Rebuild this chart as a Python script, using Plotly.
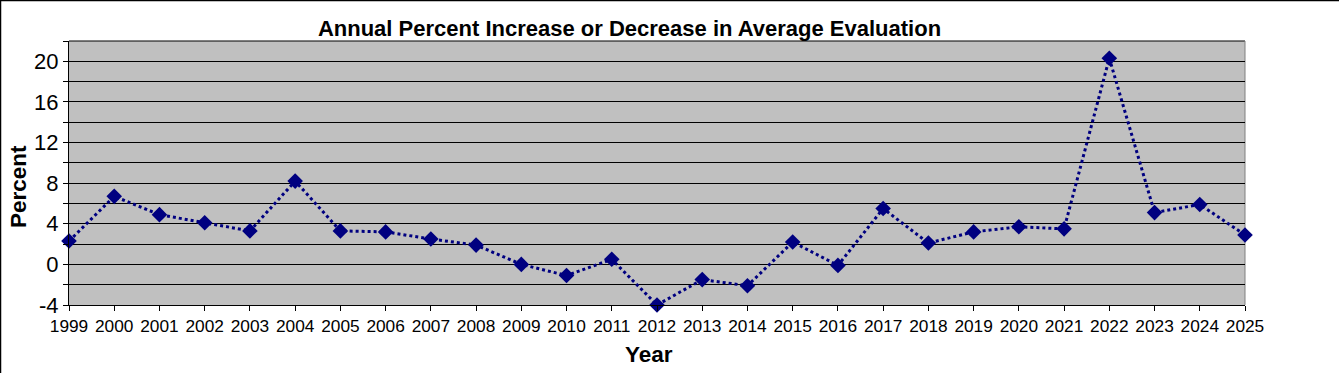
import plotly.graph_objects as go

years = list(range(1999, 2026))
percent_change = [2.3, 6.7, 4.9, 4.1, 3.3, 8.2, 3.3, 3.2, 2.5, 1.9, 0.0, -1.1, 0.5,
                  -4.0, -1.5, -2.1, 2.2, -0.1, 5.5, 2.1, 3.2, 3.7, 3.5, 20.3, 5.1, 5.9, 2.9]
y_tick_vals = list(range(-4, 23, 2))
y_tick_text = [str(v) if v % 4 == 0 else "" for v in y_tick_vals]

W, H = 1339, 373
L, R, T, B = 69, 94, 41, 68
PW, PH = W - L - R, H - T - B

def px_x(px):
    return (px - L) / PW

def px_y(py):
    return (H - B - py) / PH

FONT = "Liberation Sans, Arial, sans-serif"
NAVY = "#000080"

fig = go.Figure()
fig.add_trace(go.Scatter(
    x=years, y=percent_change, mode="lines+markers",
    line=dict(color=NAVY, width=3, dash="dot"),
    marker=dict(symbol="diamond", size=12, color=NAVY),
    cliponaxis=False, showlegend=False,
))

fig.update_layout(
    width=W, height=H,
    margin=dict(l=L, r=R, t=T, b=B, autoexpand=False),
    paper_bgcolor="white", plot_bgcolor="#C0C0C0",
    font=dict(family=FONT, color="black"),
    xaxis=dict(
        range=[1999, 2025], tickvals=years, ticktext=[str(y) for y in years],
        showgrid=False, zeroline=False, showline=True, linecolor="black", linewidth=1,
        ticks="outside", ticklen=5, tickcolor="black", tickfont=dict(size=17.3, family=FONT),
        automargin=False,
    ),
    yaxis=dict(
        range=[-4, 22], tickvals=y_tick_vals, ticktext=y_tick_text,
        showgrid=True, gridcolor="black", gridwidth=1, zeroline=False,
        showline=True, linecolor="black", linewidth=1,
        ticks="outside", ticklen=5, tickcolor="black", tickfont=dict(size=22, family=FONT),
        automargin=False,
    ),
    title=dict(
        text="<b>Annual Percent Increase or Decrease in Average Evaluation</b>",
        x=(629.5) / W, xanchor="center", y=1 - 28.5 / H, yanchor="middle",
        font=dict(size=22, family=FONT, color="black"),
        automargin=False,
    ),
    annotations=[
        dict(text="<b>Year</b>", x=px_x(649), y=px_y(354), xref="paper", yref="paper",
             showarrow=False, xanchor="center", yanchor="middle",
             font=dict(size=22.5, family=FONT, color="black")),
        dict(text="<b>Percent</b>", x=px_x(18), y=px_y(187), xref="paper", yref="paper",
             showarrow=False, xanchor="center", yanchor="middle", textangle=-90,
             font=dict(size=22.5, family=FONT, color="black")),
    ],
    shapes=[
        dict(type="line", xref="paper", yref="paper", x0=px_x(0), x1=px_x(W),
             y0=px_y(0.5), y1=px_y(0.5), line=dict(color="black", width=1.5)),
        dict(type="line", xref="paper", yref="paper", x0=px_x(0.5), x1=px_x(0.5),
             y0=px_y(0), y1=px_y(H), line=dict(color="black", width=1.5)),
        dict(type="line", xref="paper", yref="paper", x0=0, x1=1, y0=1, y1=1,
             line=dict(color="black", width=1), layer="below"),
        dict(type="line", xref="paper", yref="paper", x0=1, x1=1, y0=0, y1=1,
             line=dict(color="#808080", width=1), layer="below"),
    ],
)

fig.write_html("out.html", config={"displayModeBar": False},
               post_script="document.body.style.margin='0';")
